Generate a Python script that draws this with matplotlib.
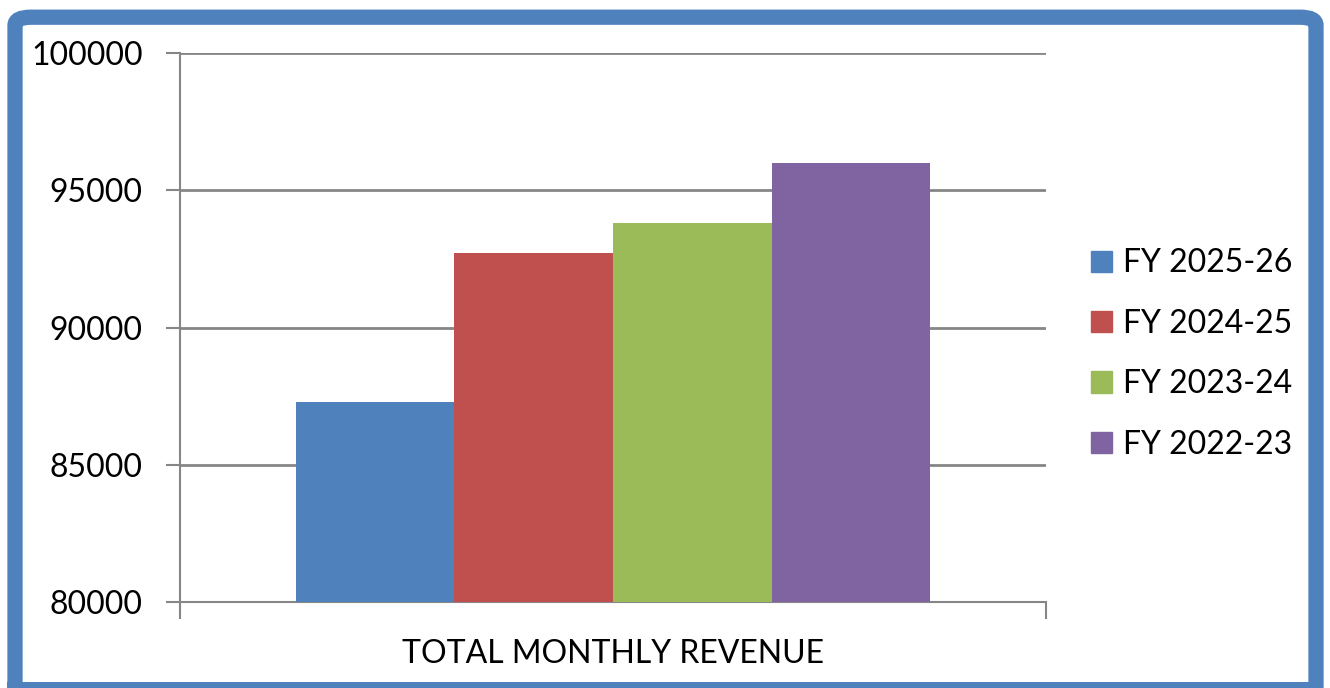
import matplotlib.pyplot as plt
from matplotlib.patches import FancyBboxPatch, Patch, Rectangle

# data
category = 'TOTAL MONTHLY REVENUE'
series = ['FY 2025-26', 'FY 2024-25', 'FY 2023-24', 'FY 2022-23']
values = [87300, 92700, 93800, 96000]
colors = ['#4F81BD', '#C0504D', '#9BBB59', '#8064A2']
yticks = [80000, 85000, 90000, 95000, 100000]

plt.rcParams['font.family'] = ['Lato', 'DejaVu Sans']

fig = plt.figure(figsize=(13.3, 6.88), dpi=100)
ax = fig.add_axes([180 / 1330, 1 - 602 / 688, 866 / 1330, 549 / 688])

w = 0.1833
offsets = [(i - 1.5) * w for i in range(len(series))]
for off, v, c, name in zip(offsets, values, colors, series):
    ax.bar(off, v - yticks[0], bottom=yticks[0], width=w, color=c, label=name, zorder=3)

ax.set_xlim(-0.5, 0.5)
ax.set_ylim(yticks[0], yticks[-1])
ax.set_yticks(yticks)
ax.set_yticklabels([str(t) for t in yticks], fontsize=23)
ax.set_xticks([-0.5, 0.5])
ax.set_xticklabels(['', ''])
ax.tick_params(axis='x', length=12, width=1.5, color='#868686')
ax.tick_params(axis='y', length=10, width=1.5, color='#868686', pad=17)
ax.grid(axis='y', color='#868686', linewidth=2, zorder=0)
for s in ['top', 'right']:
    ax.spines[s].set_visible(False)
for s in ['left', 'bottom']:
    ax.spines[s].set_color('#868686')
    ax.spines[s].set_linewidth(1.5)
ax.set_xlabel(category, fontsize=23, labelpad=11)

handles = [Patch(color=c) for c in colors]
fig.legend(handles, series, loc='center left', bbox_to_anchor=(1062 / 1330, 1 - 354 / 688),
           frameon=False, fontsize=23, handlelength=0.66, handleheight=0.66,
           labelspacing=0.95, handletextpad=0.35)

# rounded blue frame around the chart (bottom edge runs off the picture)
frame = FancyBboxPatch((15 / 1330, -0.03), 1301 / 1330, 1.005,
                       boxstyle='round,pad=0,rounding_size=0.012',
                       transform=fig.transFigure, facecolor='none',
                       edgecolor='#4F81BD', linewidth=11, zorder=10)
fig.patches.append(frame)
fig.patches.append(Rectangle((7 / 1330, 0), 1316 / 1330, 6 / 688, transform=fig.transFigure,
                             facecolor='#4F81BD', edgecolor='none', zorder=10))

fig.savefig('out.png', dpi=100)
